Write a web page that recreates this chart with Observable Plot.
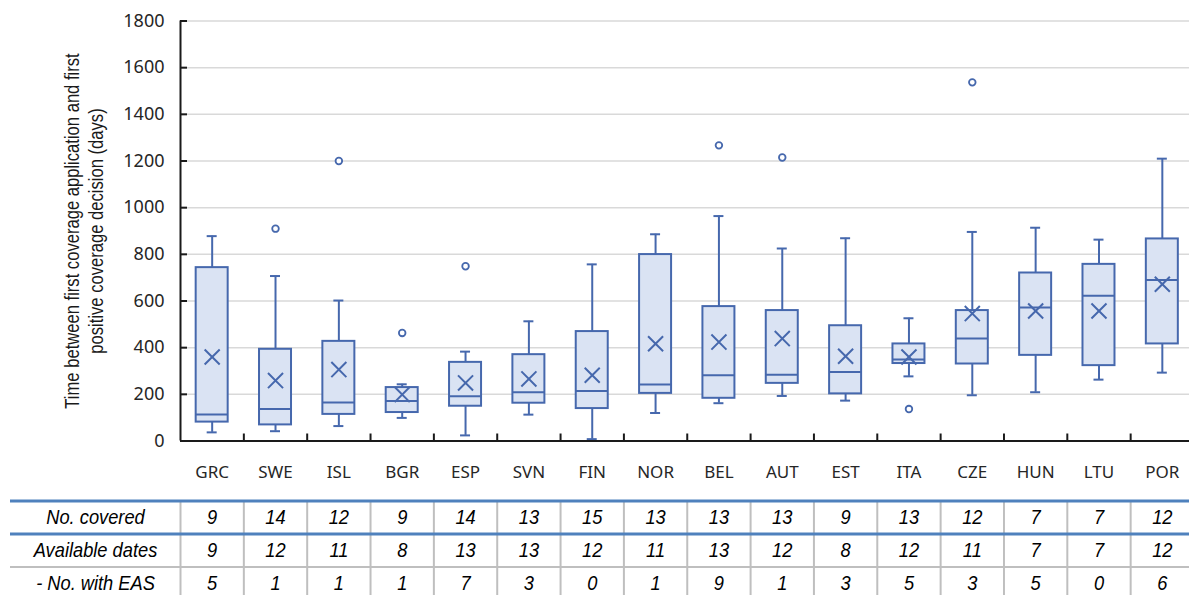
<!DOCTYPE html>
<html>
<head>
<meta charset="utf-8">
<script src="https://cdn.jsdelivr.net/npm/d3@7"></script>
<script src="https://cdn.jsdelivr.net/npm/@observablehq/plot@0.6"></script>
<style>
  html, body { margin: 0; padding: 0; background: #ffffff; }
  #chart svg, #table svg { display: block; }
</style>
</head>
<body>
<div id="chart"></div>
<div id="table"></div>
<script>
// Countries, in display order
const countries = ["GRC", "SWE", "ISL", "BGR", "ESP", "SVN", "FIN", "NOR", "BEL", "AUT", "EST", "ITA", "CZE", "HUN", "LTU", "POR"];

// Box-plot summary (days between first coverage application and first positive decision)
const whiskerLow  = [37, 42, 64, 99, 24, 113, 8, 120, 162, 193, 173, 277, 196, 209, 263, 293];
const quartile1   = [81, 69, 114, 122, 149, 162, 139, 204, 183, 247, 202, 332, 330, 367, 323, 416];
const medians     = [114, 137, 165, 171, 192, 209, 214, 242, 282, 284, 296, 349, 439, 572, 623, 690];
const quartile3   = [743, 393, 427, 229, 337, 370, 469, 799, 576, 559, 494, 416, 559, 720, 757, 866];
const whiskerHigh = [878, 707, 602, 243, 383, 513, 757, 886, 964, 825, 869, 526, 896, 914, 863, 1210];
const means       = [360, 259, 306, 199, 249, 266, 282, 417, 424, 439, 363, 360, 546, 557, 557, 672];

// Outlying observations
const outlierCountries = ["SWE", "ISL", "BGR", "ESP", "BEL", "AUT", "ITA", "CZE"];
const outlierValues    = [910, 1200, 463, 749, 1267, 1215, 137, 1537];

// Y axis ticks
const yTicks = [0, 200, 400, 600, 800, 1000, 1200, 1400, 1600, 1800];

// Table below the chart
const rowLabels = ["No. covered", "Available dates", "- No. with EAS"];
const noCovered      = [9, 14, 12, 9, 14, 13, 15, 13, 13, 13, 9, 13, 12, 7, 7, 12];
const availableDates = [9, 12, 11, 8, 13, 13, 12, 11, 13, 12, 8, 12, 11, 7, 7, 12];
const withEAS        = [5, 1, 1, 1, 7, 3, 0, 1, 9, 1, 3, 5, 3, 5, 0, 6];

const yTitle = "Time between first coverage application and first\npositive coverage decision (days)";

const boxes = countries.map((c, i) => ({
  country: c, lo: whiskerLow[i], q1: quartile1[i], med: medians[i],
  q3: quartile3[i], hi: whiskerHigh[i], mean: means[i]
}));
const outliers = outlierCountries.map((c, i) => ({country: c, value: outlierValues[i]}));

const W = 1189;
const xRange = [180, 1193.5];
const step = (xRange[1] - xRange[0]) / countries.length;
const boxW = 32, capW = 10, tickLen = 7;
const BLUE = "#4668ad", FILL = "#dae3f3", AXIS = "#1a1a1a";
const sans = "'Liberation Sans', Arial, sans-serif";
const ui = "'Noto Sans', 'Open Sans', sans-serif";

// Narrow the glyphs of a mark's texts horizontally (condensed face)
function condense(svg, k) {
  svg.querySelectorAll('g[aria-label="text"] text').forEach(t => {
    const tr = t.getAttribute("transform") || "";
    t.setAttribute("transform", `${tr} scale(${k},1)`);
  });
}

const chart = Plot.plot({
  width: W,
  height: 498,
  marginLeft: 180,
  marginRight: 0,
  marginTop: 20.5,
  marginBottom: 57.5,
  style: {fontFamily: ui, background: "#ffffff", overflow: "hidden"},
  x: {type: "band", domain: countries, range: xRange, padding: 0, round: false, axis: null},
  y: {domain: [0, 1800], nice: false, axis: null},
  marks: [
    Plot.ruleY(yTicks.slice(1), {stroke: "#d9d9d9", strokeWidth: 1.5}),
    // whiskers and caps
    Plot.ruleX(boxes, {x: "country", y1: "lo", y2: "hi", stroke: BLUE, strokeWidth: 2}),
    Plot.tickY(boxes, {x: "country", y: "lo", stroke: BLUE, strokeWidth: 2, insetLeft: (step - capW) / 2, insetRight: (step - capW) / 2}),
    Plot.tickY(boxes, {x: "country", y: "hi", stroke: BLUE, strokeWidth: 2, insetLeft: (step - capW) / 2, insetRight: (step - capW) / 2}),
    // interquartile box and median
    Plot.barY(boxes, {x: "country", y1: "q1", y2: "q3", fill: FILL, stroke: BLUE, strokeWidth: 2, insetLeft: (step - boxW) / 2, insetRight: (step - boxW) / 2}),
    Plot.tickY(boxes, {x: "country", y: "med", stroke: BLUE, strokeWidth: 2, insetLeft: (step - boxW) / 2, insetRight: (step - boxW) / 2}),
    // mean marker
    Plot.dot(boxes, {x: "country", y: "mean", symbol: "times", r: 6.9, stroke: BLUE, strokeWidth: 2}),
    // outliers
    Plot.dot(outliers, {x: "country", y: "value", r: 3.3, fill: "#ffffff", stroke: BLUE, strokeWidth: 1.8}),
    // axis lines with inward ticks
    Plot.ruleY([0], {stroke: AXIS, strokeWidth: 2}),
    Plot.ruleX([countries[0]], {x: d => d, y1: 0, y2: 1800, dx: -step / 2, stroke: AXIS, strokeWidth: 2}),
    Plot.ruleX(countries.slice(1), {x: d => d, y1: 0, y2: 30, dx: -step / 2, stroke: AXIS, strokeWidth: 2}),
    Plot.tickY(yTicks, {x: () => countries[0], y: d => d, insetLeft: 0, insetRight: step - tickLen, stroke: AXIS, strokeWidth: 2}),
    // tick labels
    Plot.axisY({ticks: yTicks, tickSize: 0, tickPadding: 16, fontSize: 18, fill: "#262626", tickFormat: d => String(d)}),
    Plot.axisX({tickSize: 0, tickPadding: 24.5, fontSize: 17, fill: "#262626", label: null}),
    Plot.text([yTitle], {frameAnchor: "left", textAnchor: "middle", rotate: -90, dx: -97, lineHeight: 1.15, fontSize: 20.5, fontFamily: sans, fill: AXIS})
  ]
});
condense(chart, 0.81);
document.getElementById("chart").appendChild(chart);

const tableRows = [noCovered, availableDates, withEAS];
const cells = tableRows.flatMap((vals, r) => countries.map((c, j) => ({row: r, country: c, value: vals[j]})));

const table = Plot.plot({
  width: W,
  height: 97,
  marginLeft: 10,
  marginRight: 0,
  marginTop: 0,
  marginBottom: 0,
  style: {fontFamily: sans, background: "#ffffff", overflow: "hidden"},
  x: {type: "band", domain: countries, range: xRange, padding: 0, round: false, axis: null},
  y: {domain: [0, 3], range: [2.5, 101.5], axis: null},
  marks: [
    Plot.ruleX(countries, {x: d => d, y1: 0, y2: 3, dx: -step / 2, stroke: "#bfbfbf", strokeWidth: 2}),
    Plot.ruleY([2], {stroke: "#bfbfbf", strokeWidth: 2}),
    Plot.ruleY([0, 1], {stroke: "#4f81bd", strokeWidth: 3}),
    Plot.text(rowLabels, {y: (d, i) => i + 0.5, frameAnchor: "left", textAnchor: "middle", dx: 85, fontSize: 21, fontStyle: "italic", fill: "#000000"}),
    Plot.text(cells, {x: "country", y: d => d.row + 0.5, text: d => String(d.value), fontSize: 21, fontStyle: "italic", fill: "#000000"})
  ]
});
condense(table, 0.87);
document.getElementById("table").appendChild(table);
</script>
</body>
</html>
